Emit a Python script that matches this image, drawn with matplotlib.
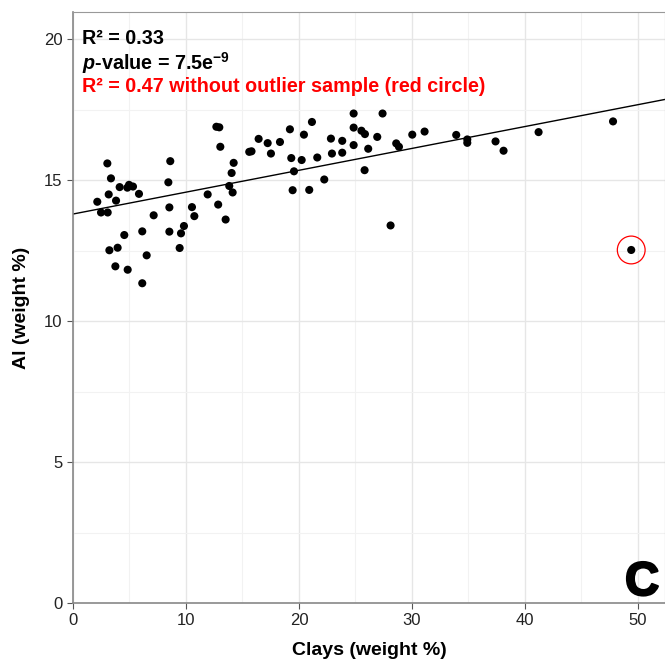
import matplotlib

matplotlib.use("Agg")
import matplotlib.patheffects as pe
import matplotlib.pyplot as plt
import numpy as np
from matplotlib.ticker import MultipleLocator

# valores (argila vs Al, % em peso)
clays = [
    2.15, 2.48, 3.07, 3.04, 3.36, 3.16, 3.81, 4.13, 3.22, 3.95, 4.54, 3.75,
    4.84, 4.81, 4.96, 5.31, 5.84, 6.13, 6.52, 6.13, 7.14, 8.61, 8.44, 8.53,
    8.53, 9.82, 9.56, 9.44, 10.53, 10.74, 11.92, 12.69, 12.95, 13.04, 12.85,
    13.51, 13.83, 14.13, 14.04, 14.22, 15.6, 15.8, 16.43, 17.23, 17.52,
    18.32, 19.2, 19.32, 19.56, 19.44, 20.24, 20.44, 21.15, 20.91, 21.62,
    22.24, 22.83, 22.92, 23.83, 23.83, 24.84, 24.84, 24.84, 25.53, 25.84,
    26.13, 25.81, 26.93, 27.4, 28.11, 28.61, 28.85, 30.03, 31.12, 33.92,
    34.9, 34.9, 37.4, 38.11, 41.21, 47.8, 49.41,
]
al = [
    14.23, 13.85, 13.85, 15.59, 15.06, 14.49, 14.27, 14.75, 12.51, 12.60,
    13.05, 11.94, 11.82, 14.73, 14.83, 14.77, 14.51, 13.18, 12.33, 11.34,
    13.75, 15.67, 14.92, 14.03, 13.17, 13.37, 13.11, 12.59, 14.04, 13.72,
    14.49, 16.89, 16.87, 16.18, 14.13, 13.60, 14.79, 14.56, 15.25, 15.61,
    16.0, 16.02, 16.46, 16.31, 15.94, 16.35, 16.8, 15.78, 15.31, 14.64,
    15.71, 16.61, 17.06, 14.65, 15.8, 15.02, 16.47, 15.94, 16.39, 15.97,
    17.36, 16.86, 16.24, 16.75, 16.63, 16.11, 15.35, 16.53, 17.36, 13.39,
    16.30, 16.18, 16.61, 16.72, 16.60, 16.44, 16.32, 16.37, 16.04, 16.70,
    17.08, 12.52,
]
outlier_idx = len(clays) - 1

x_ticks = [0, 10, 20, 30, 40, 50]
y_ticks = [0, 5, 10, 15, 20]

plt.rcParams["font.family"] = ["Liberation Sans", "DejaVu Sans"]
plt.rcParams["mathtext.fontset"] = "custom"
plt.rcParams["mathtext.rm"] = "Liberation Sans:bold"
plt.rcParams["mathtext.bf"] = "Liberation Sans:bold"
plt.rcParams["mathtext.it"] = "Liberation Sans:bold:italic"
plt.rcParams["mathtext.default"] = "bf"

fig = plt.figure(figsize=(6.65, 6.62), dpi=100)
ax = fig.add_axes([73 / 665, 59 / 662, 592 / 665, 591 / 662])

x = np.array(clays)
y = np.array(al)
xlim = (0, 52.4)
ylim = (0, 20.96)

# grade estilo theme_bw
ax.xaxis.set_minor_locator(MultipleLocator(5))
ax.yaxis.set_minor_locator(MultipleLocator(2.5))
ax.set_xticks(x_ticks)
ax.set_yticks(y_ticks)
ax.grid(which="major", color="#e6e6e6", lw=1.0, zorder=0)
ax.grid(which="minor", color="#f2f2f2", lw=0.8, zorder=0)
ax.set_axisbelow(True)

# reta de regressão linear
coef = np.polyfit(x, y, 1)
xs = np.array(xlim)
ax.plot(xs, np.polyval(coef, xs), color="black", lw=1.0, zorder=2)

ax.scatter(x, y, s=34, color="black", edgecolors="none", zorder=3)
ax.scatter(x[outlier_idx], y[outlier_idx], s=400, facecolors="none",
           edgecolors="red", linewidths=0.9, zorder=4)

ax.set_xlim(*xlim)
ax.set_ylim(*ylim)

for side in ["top", "right"]:
    ax.spines[side].set_color("#999999")
for side in ["left", "bottom"]:
    ax.spines[side].set_color("#888888")
    ax.spines[side].set_linewidth(1.2)
ax.tick_params(which="major", length=4, color="#555555", labelsize=12,
               labelcolor="#222222")
ax.tick_params(which="minor", length=0)

ax.set_xlabel("Clays (weight %)", fontsize=14, fontweight="bold", labelpad=10)
ax.set_ylabel("Al (weight %)", fontsize=14, fontweight="bold", labelpad=10)

fs = 14.2
ax.text(0.015, 0.955, "R\u00b2 = 0.33", transform=ax.transAxes,
        fontsize=fs, fontweight="bold", va="center", ha="left")
ax.text(0.015, 0.914, r"$\mathit{p}$-value = 7.5e$^{-9}$",
        transform=ax.transAxes, fontsize=fs, fontweight="bold",
        va="center", ha="left")
ax.text(0.015, 0.874, "R\u00b2 = 0.47 without outlier sample (red circle)",
        transform=ax.transAxes, fontsize=fs, fontweight="bold",
        color="red", va="center", ha="left")

ax.text(0.99, 0.0135, "C", transform=ax.transAxes, fontsize=34,
        fontweight="bold", ha="right", va="baseline",
        path_effects=[pe.withStroke(linewidth=1.6, foreground="black")])

fig.savefig("out.png", dpi=100)
